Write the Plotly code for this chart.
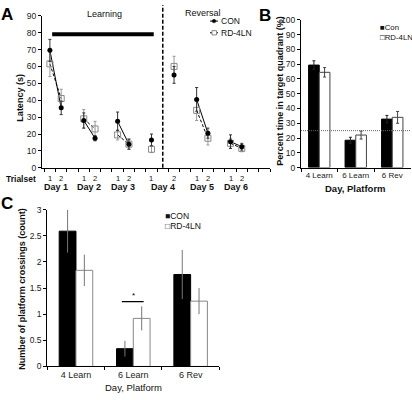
import plotly.graph_objects as go

W, H = 412, 400
FONT = "Liberation Sans, Arial, sans-serif"


def px(x):
    return x / W


def py(y):
    return 1 - y / H


# ---------------- Panel A data (latency) ----------------
days = [1, 1, 2, 2, 3, 3, 4, 4, 5, 5, 6, 6]
trials = [1, 2, 1, 2, 1, 2, 1, 2, 1, 2, 1, 2]
trial_pos = [1, 2, 4, 5, 7, 8, 10, 12, 14, 15, 17, 18]
phase = ["L", "L", "L", "L", "L", "L", "L", "R", "R", "R", "R", "R"]
con_lat = [69.5, 35.5, 28, 17.5, 27.5, 14, 16.5, 55, 40.5, 20.5, 15.5, 12.5]
con_lat_err = [6.5, 4, 4.5, 1.5, 5.5, 3, 3.5, 5, 7, 3, 4, 2]
rd_lat = [61.5, 41, 29, 23, 19.5, 14, 11, 60, 34, 17.5, 14.5, 11.5]
rd_lat_err = [7.5, 5.5, 5.5, 4.5, 3, 3, 2, 6, 6, 4, 3, 2]
reversal_pos = 11
learning_bar_y = 79

# ---------------- Panel B data (percent time) ----------------
platform_cats = ["4 Learn", "6 Learn", "6 Rev"]
con_pct = [69.4, 18.5, 32.8]
con_pct_err = [2.9, 2, 2.5]
rd_pct = [64.5, 22, 34]
rd_pct_err = [3.2, 2.7, 4]
chance_level = 25

# ---------------- Panel C data (crossings) ----------------
con_cross = [2.59, 0.34, 1.76]
con_cross_err = [0.41, 0.15, 0.47]
rd_cross = [1.84, 0.92, 1.25]
rd_cross_err = [0.30, 0.23, 0.25]
sig_y = 1.24


def segments(xs, ys, groups):
    """Insert gaps so only points in the same day/phase are connected."""
    ox, oy = [], []
    prev = None
    for x, y, g in zip(xs, ys, groups):
        if prev is not None and g != prev:
            ox.append(None)
            oy.append(None)
        ox.append(x)
        oy.append(y)
        prev = g
    return ox, oy


groups = [f"{d}{p}" for d, p in zip(days, phase)]

fig = go.Figure()

# Panel A lines
cx, cy = segments(trial_pos, con_lat, groups)
rx, ry = segments(trial_pos, rd_lat, groups)
fig.add_trace(go.Scatter(x=rx, y=ry, mode="lines", line=dict(color="black", width=1, dash="3px,2px"),
                         xaxis="x", yaxis="y", showlegend=False, hoverinfo="skip"))
fig.add_trace(go.Scatter(x=cx, y=cy, mode="lines", line=dict(color="black", width=1),
                         xaxis="x", yaxis="y", showlegend=False, hoverinfo="skip"))
# Panel A markers + error bars
fig.add_trace(go.Scatter(x=trial_pos, y=rd_lat, mode="markers", name="RD-4LN",
                         marker=dict(symbol="square-open", size=6, color="#8a8a8a", line=dict(width=1)),
                         error_y=dict(type="data", array=rd_lat_err, color="#9a9a9a", thickness=1, width=1.5),
                         xaxis="x", yaxis="y", showlegend=False))
fig.add_trace(go.Scatter(x=trial_pos, y=con_lat, mode="markers", name="CON",
                         marker=dict(symbol="circle", size=5, color="black"),
                         error_y=dict(type="data", array=con_lat_err, color="#333333", thickness=1, width=1.5),
                         xaxis="x", yaxis="y", showlegend=False))

# Panel B bars
fig.add_trace(go.Bar(x=platform_cats, y=con_pct, name="Con", marker=dict(color="black", line=dict(color="black", width=1)),
                     error_y=dict(type="data", array=con_pct_err, color="#222222", thickness=1, width=1.5),
                     xaxis="x2", yaxis="y2", showlegend=False))
fig.add_trace(go.Bar(x=platform_cats, y=rd_pct, name="RD-4LN", marker=dict(color="white", line=dict(color="#444444", width=1)),
                     error_y=dict(type="data", array=rd_pct_err, color="#444444", thickness=1, width=1.5),
                     xaxis="x2", yaxis="y2", showlegend=False))

# Panel C bars
fig.add_trace(go.Bar(x=platform_cats, y=con_cross, name="CON", marker=dict(color="black", line=dict(color="black", width=1)),
                     error_y=dict(type="data", array=con_cross_err, color="#777777", thickness=1, width=0),
                     xaxis="x3", yaxis="y3", showlegend=False))
fig.add_trace(go.Bar(x=platform_cats, y=rd_cross, name="RD-4LN", marker=dict(color="white", line=dict(color="#888888", width=1)),
                     error_y=dict(type="data", array=rd_cross_err, color="#777777", thickness=1, width=0),
                     xaxis="x3", yaxis="y3", showlegend=False))

axis_common = dict(showline=True, linecolor="black", linewidth=1, ticks="outside", ticklen=3,
                   tickcolor="black", tickwidth=1, showgrid=False, zeroline=False,
                   tickfont=dict(family=FONT, size=8.5, color="#222222"))

layout = dict(
    width=W, height=H, margin=dict(l=0, r=0, t=0, b=0),
    paper_bgcolor="white", plot_bgcolor="white",
    font=dict(family=FONT, color="black"),
    barmode="group", bargap=0.415, bargroupgap=0,
    showlegend=False,
    xaxis=dict(axis_common, domain=[px(42), px(270)], range=[0.3, 20.5], anchor="y",
               tickmode="linear", tick0=0.5, dtick=1, showticklabels=False),
    yaxis=dict(axis_common, domain=[py(167), py(11)], range=[0, 90], anchor="x",
               tickvals=list(range(0, 91, 10))),
    xaxis2=dict(axis_common, domain=[px(301), px(410.5)], range=[-0.5, 2.5], anchor="y2",
                type="category", tickson="boundaries", tickangle=0),
    yaxis2=dict(axis_common, domain=[py(166.7), py(15.3)], range=[0, 100], anchor="x2",
                tickvals=list(range(0, 101, 10))),
    xaxis3=dict(axis_common, domain=[px(47.3), px(219.3)], range=[-0.5, 2.5], anchor="y3",
                type="category", tickson="boundaries", tickangle=0),
    yaxis3=dict(axis_common, domain=[py(370.7), py(210)], range=[0, 3], anchor="x3",
                tickvals=[0, 0.5, 1, 1.5, 2, 2.5, 3], ticktext=["0", "0.5", "1", "1.5", "2", "2.5", "3"]),
)
layout["xaxis2"]["tickfont"] = dict(family=FONT, size=8, color="#222222")
layout["xaxis3"]["tickfont"] = dict(family=FONT, size=9, color="#222222")
fig.update_layout(**layout)

shapes = []
# reversal divider
shapes.append(dict(type="line", xref="x", yref="paper", x0=reversal_pos, x1=reversal_pos,
                   y0=py(167), y1=1, line=dict(color="black", width=1.5, dash="4px,2px")))
# learning bar
learn_pos = [p for p, ph in zip(trial_pos, phase) if ph == "L"]
shapes.append(dict(type="line", xref="x", yref="y", x0=min(learn_pos) + 0.2, x1=max(learn_pos) + 0.2,
                   y0=learning_bar_y, y1=learning_bar_y, line=dict(color="black", width=4)))
# chance line in B
shapes.append(dict(type="line", xref="x2 domain", yref="y2", x0=0, x1=1, y0=chance_level, y1=chance_level,
                   line=dict(color="#666666", width=1, dash="1px,1px")))
# significance line in C
shapes.append(dict(type="line", xref="x3", yref="y3", x0=0.8, x1=1.18, y0=sig_y, y1=sig_y,
                   line=dict(color="black", width=1.3)))
# legend glyphs for A
shapes.append(dict(type="line", xref="paper", yref="paper", x0=px(210), x1=px(218), y0=py(16.5), y1=py(16.5),
                   line=dict(color="black", width=1)))
shapes.append(dict(type="circle", xref="paper", yref="paper", x0=px(212.2), x1=px(215.8), y0=py(18.3), y1=py(14.7),
                   fillcolor="black", line=dict(color="black", width=0.5)))
shapes.append(dict(type="line", xref="paper", yref="paper", x0=px(210), x1=px(218), y0=py(28.5), y1=py(28.5),
                   line=dict(color="black", width=1, dash="2px,1px")))
shapes.append(dict(type="rect", xref="paper", yref="paper", x0=px(212), x1=px(216.5), y0=py(30.7), y1=py(26.3),
                   fillcolor="white", line=dict(color="#888888", width=1)))
fig.update_layout(shapes=shapes)

ann = []


def text(x, y, s, size=8.5, bold=False, xanchor="center", angle=0, color="#111111"):
    t = f"<b>{s}</b>" if bold else s
    ann.append(dict(x=px(x), y=py(y), xref="paper", yref="paper", text=t, showarrow=False,
                    xanchor=xanchor, yanchor="middle", textangle=angle,
                    font=dict(family=FONT, size=size, color=color)))


# panel letters
text(7, 10, "A", size=17, bold=True, color="black")
text(265, 11, "B", size=17, bold=True, color="black")
text(7, 204, "C", size=17, bold=True, color="black")

# Panel A texts
text(104, 9, "Learning", size=9)
text(203, 8, "Reversal", size=9)
text(218.5, 16.5, "CON", size=8.5, xanchor="left")
text(218.5, 28.5, "RD-4LN", size=8.5, xanchor="left")
text(20, 95, "Latency (s)", size=9, bold=True, angle=-90)
text(38, 178, "Trialset", size=8.5, bold=True, xanchor="right")
for p, t in zip(trial_pos, trials):
    ann.append(dict(x=p, y=py(177.5), xref="x", yref="paper", text=str(t), showarrow=False,
                    xanchor="center", yanchor="middle", font=dict(family=FONT, size=7.5, color="#111111")))
for d in sorted(set(days)):
    ps = [p for p, dd in zip(trial_pos, days) if dd == d]
    ann.append(dict(x=sum(ps) / len(ps), y=py(186.5), xref="x", yref="paper", text=f"<b>Day {d}</b>",
                    showarrow=False, xanchor="center", yanchor="middle",
                    font=dict(family=FONT, size=9, color="#111111")))

# Panel B texts
text(377.5, 23.3, "■Con", size=7.8, xanchor="left")
text(377.5, 33, "□RD-4LN", size=7.8, xanchor="left")
text(280, 88, "Percent time in target quadrant (%)", size=9, bold=True, angle=-90)
text(355, 188.5, "Day, Platform", size=9.5, bold=True)

# Panel C texts
text(163, 216, "■CON", size=8.5, xanchor="left")
text(163, 226.7, "□RD-4LN", size=8.5, xanchor="left")
text(22, 291, "Number of platform crossings (count)", size=9, bold=True, angle=-90)
text(133, 392, "Day, Platform", size=9.5)
ann.append(dict(x=1, y=sig_y, xref="x3", yref="y3", text="*", showarrow=False, xanchor="center",
                yanchor="bottom", yshift=0, font=dict(family=FONT, size=8, color="black")))

fig.update_layout(annotations=ann)
fig.write_html("out.html", config={"displayModeBar": False},
               post_script="document.body.style.margin='0';document.body.style.overflow='hidden';")
